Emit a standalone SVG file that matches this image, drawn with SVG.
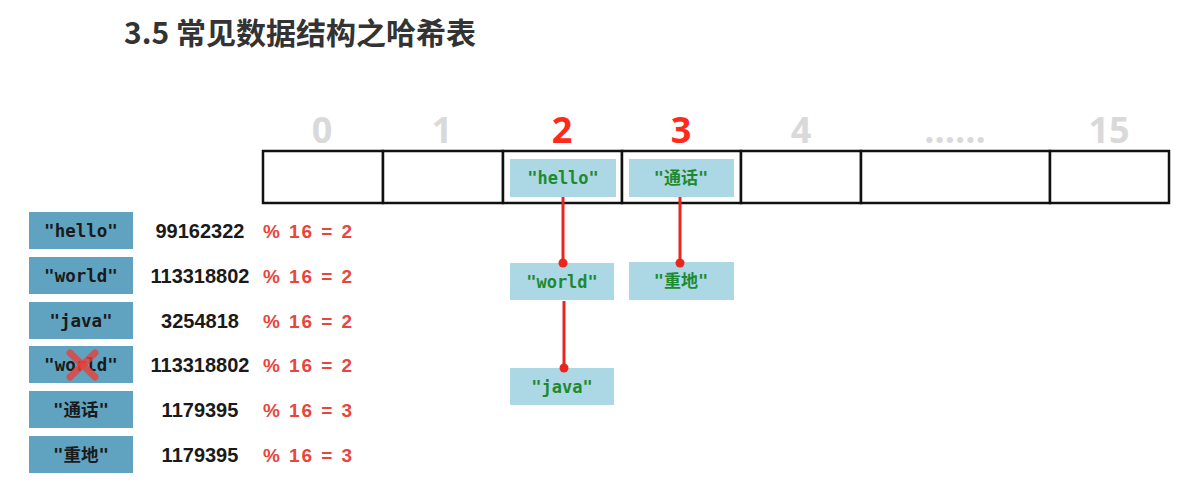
<svg xmlns="http://www.w3.org/2000/svg" width="1188" height="495" viewBox="0 0 1188 495">
<style>
.title{font-family:"Noto Sans CJK SC","Noto Sans",sans-serif;font-weight:bold;font-size:30px;fill:#333}
.idx{font-family:"Open Sans","Liberation Sans",sans-serif;font-weight:bold;font-size:36px;text-anchor:middle;fill:#d9d9d9}
.idx.hot{fill:#ff2a1a}
.cell{fill:#fff;stroke:#111;stroke-width:2.5}
.key{fill:#5fa3c1}
.keyt{font-family:"DejaVu Sans Mono","Noto Sans CJK SC",monospace;font-weight:bold;font-size:17.5px;text-anchor:middle;fill:#1a1a1a}
.node{fill:#acd8e5}
.nodet{font-family:"DejaVu Sans Mono","Noto Sans CJK SC",monospace;font-weight:bold;font-size:17px;text-anchor:middle;fill:#1e8a30}
.num{font-family:"Liberation Sans",sans-serif;font-weight:bold;font-size:20px;text-anchor:middle;fill:#1a1a1a}
.mod{font-family:"Liberation Sans",sans-serif;font-weight:bold;font-size:19px;fill:#e8453c}
.link{stroke:#e8261e;stroke-width:3;fill:none}
.dot{fill:#e8261e}
</style>
<rect width="1188" height="495" fill="#fff"/>
<text class="title" x="124" y="44">3.5 常见数据结构之哈希表</text>

<g id="indices">
<text class="idx" x="322" y="143">0</text>
<text class="idx" x="442" y="143">1</text>
<text class="idx hot" x="562" y="143">2</text>
<text class="idx hot" x="681" y="143">3</text>
<text class="idx" x="801" y="143">4</text>
<text class="idx" x="955" y="143">......</text>
<text class="idx" x="1109" y="143">15</text>
</g>

<g id="table">
<rect class="cell" x="263" y="151" width="120" height="52"/>
<rect class="cell" x="383" y="151" width="120" height="52"/>
<rect class="cell" x="503" y="151" width="119" height="52"/>
<rect class="cell" x="622" y="151" width="119" height="52"/>
<rect class="cell" x="741" y="151" width="120" height="52"/>
<rect class="cell" x="861" y="151" width="189" height="52"/>
<rect class="cell" x="1050" y="151" width="119" height="52"/>
</g>

<g id="node-hello"><rect class="node" x="510" y="159" width="106" height="38"/><text class="nodet" x="563" y="184">"hello"</text></g>
<g id="node-tonghua"><rect class="node" x="629" y="159" width="105" height="38"/><text class="nodet" x="681" y="184">"通话"</text></g>
<g id="node-world"><rect class="node" x="510" y="263" width="104" height="37"/><text class="nodet" x="562" y="288">"world"</text></g>
<g id="node-zhongdi"><rect class="node" x="629" y="262" width="105" height="38"/><text class="nodet" x="681" y="287">"重地"</text></g>
<g id="node-java"><rect class="node" x="510" y="368" width="104" height="37"/><text class="nodet" x="562" y="393">"java"</text></g>

<g id="connectors">
<line class="link" x1="563" y1="197" x2="563" y2="263"/>
<circle class="dot" cx="563" cy="263" r="4.5"/>
<line class="link" x1="680" y1="197" x2="680" y2="263"/>
<circle class="dot" cx="680" cy="263" r="4.5"/>
<line class="link" x1="564" y1="301" x2="564" y2="368"/>
<circle class="dot" cx="564" cy="368" r="4.5"/>
</g>

<g id="row-hello"><rect class="key" x="29" y="212" width="104" height="37"/><text class="keyt" x="81" y="237">"hello"</text><text class="num" x="200" y="238">99162322</text><text class="mod" x="263" y="238" textLength="89" lengthAdjust="spacing">% 16 = 2</text></g>
<g id="row-world"><rect class="key" x="29" y="257" width="104" height="37"/><text class="keyt" x="81" y="282">"world"</text><text class="num" x="200" y="283">113318802</text><text class="mod" x="263" y="283" textLength="89" lengthAdjust="spacing">% 16 = 2</text></g>
<g id="row-java"><rect class="key" x="29" y="302" width="104" height="37"/><text class="keyt" x="81" y="327">"java"</text><text class="num" x="200" y="328">3254818</text><text class="mod" x="263" y="328" textLength="89" lengthAdjust="spacing">% 16 = 2</text></g>
<g id="row-world2"><rect class="key" x="29" y="346" width="104" height="37"/><text class="keyt" x="81" y="371">"world"</text>
<g stroke="#e8403a" stroke-opacity="0.8" stroke-width="7" stroke-linecap="round"><line x1="70" y1="353" x2="95" y2="377"/><line x1="95" y1="353" x2="70" y2="377"/></g>
<text class="num" x="200" y="372">113318802</text><text class="mod" x="263" y="372" textLength="89" lengthAdjust="spacing">% 16 = 2</text></g>
<g id="row-tonghua"><rect class="key" x="29" y="391" width="104" height="37"/><text class="keyt" x="81" y="416">"通话"</text><text class="num" x="200" y="417">1179395</text><text class="mod" x="263" y="417" textLength="89" lengthAdjust="spacing">% 16 = 3</text></g>
<g id="row-zhongdi"><rect class="key" x="29" y="436" width="104" height="37"/><text class="keyt" x="81" y="461">"重地"</text><text class="num" x="200" y="462">1179395</text><text class="mod" x="263" y="462" textLength="89" lengthAdjust="spacing">% 16 = 3</text></g>
</svg>
